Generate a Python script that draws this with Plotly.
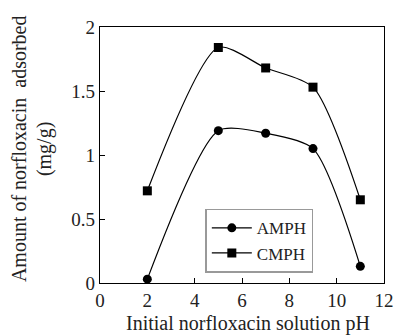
import plotly.graph_objects as go

ph = [2, 5, 7, 9, 11]
amph = [0.03, 1.19, 1.17, 1.05, 0.13]
cmph = [0.72, 1.84, 1.68, 1.53, 0.65]
x_ticks = [0, 2, 4, 6, 8, 10, 12]
y_ticks = [0, 0.5, 1, 1.5, 2]
y_tick_text = ["0", "0.5", "1", "1.5", "2"]

FONT = "Liberation Serif"
fig = go.Figure()
fig.add_trace(go.Scatter(x=ph, y=amph, name="AMPH", mode="lines+markers",
                         line=dict(color="black", width=1.2, shape="spline", smoothing=0.7),
                         marker=dict(symbol="circle", size=9, color="black")))
fig.add_trace(go.Scatter(x=ph, y=cmph, name="CMPH", mode="lines+markers",
                         line=dict(color="black", width=1.2, shape="spline", smoothing=0.7),
                         marker=dict(symbol="square", size=9, color="black")))

fig.update_layout(
    width=395, height=327,
    margin=dict(l=92, r=9, t=11, b=52),
    paper_bgcolor="white", plot_bgcolor="white",
    font=dict(family=FONT, size=19, color="#222"),
    showlegend=True,
    legend=dict(x=0.561, y=0.165, xanchor="center", yanchor="middle",
                bordercolor="#999", borderwidth=1.5, bgcolor="white",
                font=dict(family=FONT, size=17), tracegroupgap=0,
                itemwidth=40),
    xaxis=dict(range=[0, 12], tickvals=x_ticks, ticks="inside", ticklen=5,
               tickcolor="black", showline=True, linecolor="black", linewidth=1.2,
               mirror=True, showgrid=False, zeroline=False, tickfont=dict(size=19)),
    yaxis=dict(range=[0, 2], tickvals=y_ticks, ticktext=y_tick_text, ticks="inside", ticklen=5,
               tickcolor="black", showline=True, linecolor="black", linewidth=1.2,
               mirror=True, showgrid=False, zeroline=False, tickfont=dict(size=19)),
    annotations=[
        dict(text="Amount of norfloxacin  adsorbed", textangle=-90, xref="paper", yref="paper",
             x=0, y=0.523, xshift=-81, xanchor="center", yanchor="middle",
             showarrow=False, font=dict(size=20)),
        dict(text="(mg/g)", textangle=-90, xref="paper", yref="paper",
             x=0, y=0.523, xshift=-56, xanchor="center", yanchor="middle",
             showarrow=False, font=dict(size=20)),
        dict(text="Initial norfloxacin solution pH", xref="paper", yref="paper",
             x=0.52, y=0, yshift=-40, xanchor="center", yanchor="middle",
             showarrow=False, font=dict(size=20)),
    ],
)
fig.write_html("out.html")
